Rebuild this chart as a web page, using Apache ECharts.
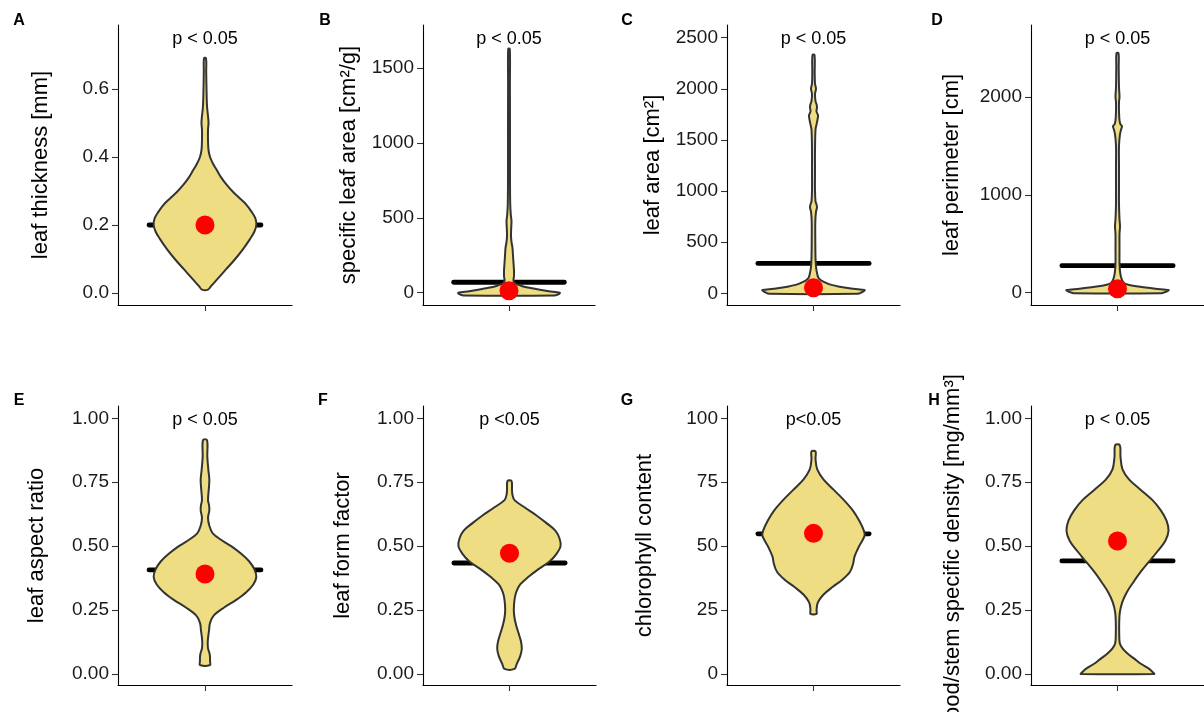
<!DOCTYPE html>
<html><head><meta charset="utf-8">
<script src="https://cdn.jsdelivr.net/npm/echarts@6/dist/echarts.min.js"></script>
<style>html,body{margin:0;padding:0;background:#fff}#c{width:1204px;height:712px}</style>
</head><body><div id="c"></div>
<script>
// ---------------- data ----------------
const panelLetters = ['A', 'B', 'C', 'D', 'E', 'F', 'G', 'H'];
const yTitles = ['leaf thickness [mm]', 'specific leaf area [cm²/g]', 'leaf area [cm²]', 'leaf perimeter [cm]',
  'leaf aspect ratio', 'leaf form factor', 'chlorophyll content', 'wood/stem specific density [mg/mm³]'];
const pLabels = ['p < 0.05', 'p < 0.05', 'p < 0.05', 'p < 0.05', 'p < 0.05', 'p <0.05', 'p<0.05', 'p < 0.05'];
const ticksA = [0, 0.2, 0.4, 0.6];
const ticksB = [0, 500, 1000, 1500];
const ticksC = [0, 500, 1000, 1500, 2000, 2500];
const ticksD = [0, 1000, 2000];
const ticksE = [0, 0.25, 0.5, 0.75, 1];
const ticksF = [0, 0.25, 0.5, 0.75, 1];
const ticksG = [0, 25, 50, 75, 100];
const ticksH = [0, 0.25, 0.5, 0.75, 1];
const tickDecimals = [1, 0, 0, 0, 2, 2, 0, 2];
const yMin = [-0.0353, -82, -114, -126, -0.043, -0.043, -4.3, -0.043];
const yMax = [0.788, 1789, 2624, 2736, 1.048, 1.048, 104.8, 1.048];
const crossbarValues = [0.2, 70, 293, 276, 0.407, 0.434, 54.8, 0.442];
const pointValues = [0.2, 13, 55, 41, 0.391, 0.472, 55, 0.52];

// violin outlines: y value and relative density (half width)
const violinA_y = [0.01,0.02,0.04,0.07,0.10,0.13,0.16,0.18,0.20,0.22,0.24,0.26,0.28,0.30,0.32,0.34,0.36,0.38,0.40,0.42,0.45,0.48,0.50,0.52,0.55,0.60,0.65,0.69];
const violinA_d = [3,6,12,21,30,38,45,49,51,50,46,41,34,27,21,16,12,8,5,3.5,3,3,3.5,3,2,1.5,1.2,1];
const violinB_y = [-18,-10,0,10,20,27,35,47,63,80,110,150,200,250,300,340,380,430,480,520,600,800,1100,1400,1629];
const violinB_d = [46,50,51,40,31,26,19,12,6,4.5,5,5,4.5,4,3.5,2.5,2,2.2,2.5,1.8,1.2,1,1,0.9,0.8];
const violinC_y = [-5,15,32,45,65,85,104,125,150,200,260,350,500,700,800,840,870,900,1000,1200,1400,1600,1650,1700,1740,1780,1820,1850,1880,1950,2000,2050,2150,2332];
const violinC_d = [44,49,51,40,26,17,12,8,5,3.5,2.5,2,1.8,1.8,2.5,3.5,3,2,1.5,1.5,1.5,2,3,4,4.5,3,3.5,3,2,1.5,2.5,1.5,1.2,1];
const violinD_y = [-5,12,27,40,55,68,78,95,120,160,220,300,450,600,680,750,900,1100,1300,1500,1620,1680,1700,1720,1760,1850,1950,2000,2100,2300,2448];
const violinD_d = [44,49,51,38,26,17,12,7,5,3.5,2.5,2,2,2,2.5,2,1.5,1.5,1.5,1.5,2.5,4,4.5,3,2,1.5,1.5,2,1.5,1.2,1];
const violinE_y = [0.035,0.05,0.065,0.08,0.10,0.12,0.14,0.17,0.20,0.23,0.26,0.29,0.32,0.35,0.38,0.41,0.44,0.47,0.50,0.52,0.55,0.58,0.61,0.64,0.66,0.68,0.72,0.76,0.80,0.85,0.915];
const violinE_d = [5,5,5,4.5,3,2.7,3,4,5,9,19,31,41,48,51,49,44,36,26,17.7,7.7,4.3,3,4.3,4,3,3.7,4.3,3.3,2.3,2];
const violinF_y = [0.02,0.04,0.07,0.10,0.13,0.16,0.19,0.22,0.25,0.29,0.32,0.35,0.38,0.41,0.44,0.47,0.50,0.53,0.56,0.59,0.62,0.65,0.68,0.70,0.72,0.755];
const violinF_d = [5,7.3,10.7,12.3,11.3,9,6.7,5,4.3,5,6.7,10.7,19,29,40,47,51,50,46,37,27,15.7,5,3,2.5,2];
const violinG_y = [23.5,25,28,31,34,37,40,43,46,50,54,56,60,64,68,72,76,80,84,87];
const violinG_d = [3,3,4.3,9.7,18.7,28.7,36,39,40.5,45,50.3,49.7,45,38.7,30,20,10,3.7,2,2];
const violinH_y = [0.0,0.005,0.02,0.04,0.06,0.08,0.10,0.12,0.16,0.20,0.24,0.28,0.32,0.36,0.40,0.44,0.48,0.52,0.56,0.60,0.64,0.68,0.72,0.76,0.80,0.85,0.895];
const violinH_d = [36.7,35.7,31.7,23.3,16.7,10,5,2.3,1.7,1.7,2.3,4.7,9.3,16,23.3,31.7,40,47.7,51,49,43.3,35,23.3,11.7,5,3,2.3];

const tickSets = [ticksA, ticksB, ticksC, ticksD, ticksE, ticksF, ticksG, ticksH];
const violinYs = [violinA_y, violinB_y, violinC_y, violinD_y, violinE_y, violinF_y, violinG_y, violinH_y];
const violinDs = [violinA_d, violinB_d, violinC_d, violinD_d, violinE_d, violinF_d, violinG_d, violinH_d];

// ---------------- layout / style ----------------
const FONT = '"Liberation Sans", Arial, sans-serif';
const gridLefts = [118, 423, 727, 1031, 118, 423, 727, 1031];
const gridWidths = [174, 172, 173, 173, 174, 173, 173, 173];
const gridTops = [25, 25, 25, 25, 406, 406, 406, 406];
const gridHeights = [280, 280, 280, 280, 279, 279, 279, 279];
const nameGaps = [66, 63, 63, 68, 70, 69, 71, 67];
const namePads = [0, 0, 0, 0, 0, 0, 0, [0, 18, 0, 0]];
const letterPos = [[19, 21], [325, 21], [627, 21], [937, 21], [19, 401], [323, 401], [627, 401], [934, 401]];
const VIOLIN_HALF = 0.354;
const BAR_HALF = 0.386;

const grids = [], xAxes = [], yAxes = [], series = [], graphics = [];
for (let i = 0; i < 8; i++) {
  grids.push({ left: gridLefts[i], top: gridTops[i], width: gridWidths[i], height: gridHeights[i],
    containLabel: false, outerBoundsMode: 'none' });
  xAxes.push({
    type: 'value', gridIndex: i, min: -0.6, max: 0.6,
    axisLine: { onZero: false, lineStyle: { color: '#000', width: 1.1 } },
    axisTick: { show: true, customValues: [0], length: 6, lineStyle: { color: '#333', width: 1.1 } },
    axisLabel: { show: false }, splitLine: { show: false }
  });
  const dec = tickDecimals[i];
  yAxes.push({
    type: 'value', gridIndex: i, min: yMin[i], max: yMax[i],
    name: yTitles[i], nameLocation: 'middle', nameGap: nameGaps[i],
    nameTextStyle: { fontSize: 22, color: '#000', fontFamily: FONT, padding: namePads[i] },
    axisLine: { onZero: false, lineStyle: { color: '#000', width: 1.1 } },
    axisTick: { show: true, customValues: tickSets[i], length: 6, lineStyle: { color: '#333', width: 1.1 } },
    axisLabel: { customValues: tickSets[i], formatter: v => Number(v).toFixed(dec), fontSize: 19, color: '#1a1a1a', fontFamily: FONT, margin: 9 },
    splitLine: { show: false }
  });
  // crossbar line
  series.push({
    type: 'line', xAxisIndex: i, yAxisIndex: i, z: 1, symbol: 'none', silent: true,
    data: [[-BAR_HALF, crossbarValues[i]], [BAR_HALF, crossbarValues[i]]],
    lineStyle: { color: '#000', width: 4.8, cap: 'round' }
  });
  // violin
  const ys = violinYs[i], ds = violinDs[i];
  const dmax = Math.max.apply(null, ds);
  series.push({
    type: 'custom', xAxisIndex: i, yAxisIndex: i, z: 2, silent: true,
    data: [[0, ys[0]]],
    renderItem: function (params, api) {
      const right = [], left = [];
      for (let k = 0; k < ys.length; k++) {
        const h = ds[k] / dmax * VIOLIN_HALF;
        right.push(api.coord([h, ys[k]]));
        left.push(api.coord([-h, ys[k]]));
      }
      const pts = right.concat(left.reverse());
      return { type: 'polygon', shape: { points: pts, smooth: 0.35 },
        style: { fill: '#EEDD82', stroke: '#333333', lineWidth: 2, lineJoin: 'round' } };
    }
  });
  // mean point
  series.push({
    type: 'scatter', xAxisIndex: i, yAxisIndex: i, z: 3, silent: true,
    symbolSize: 19, itemStyle: { color: '#FF0000', opacity: 1 },
    data: [[0, pointValues[i]]]
  });
  graphics.push({ type: 'text', x: letterPos[i][0], y: letterPos[i][1],
    style: { text: panelLetters[i], font: 'bold 16px ' + FONT, fill: '#000', textAlign: 'center', textVerticalAlign: 'middle' } });
  graphics.push({ type: 'text', x: gridLefts[i] + gridWidths[i] / 2, y: gridTops[i] + 14,
    style: { text: pLabels[i], font: '18px ' + FONT, fill: '#000', textAlign: 'center', textVerticalAlign: 'middle' } });
}
// cell boundary of panel H: the long axis title is cut off above its cell
graphics.push({ type: 'rect', z: 100, shape: { x: 920, y: 330, width: 60, height: 42 }, style: { fill: '#fff' } });

const chart = echarts.init(document.getElementById('c'), null, { renderer: 'canvas' });
chart.setOption({
  animation: false,
  backgroundColor: '#fff',
  textStyle: { fontFamily: FONT },
  grid: grids, xAxis: xAxes, yAxis: yAxes, series: series, graphic: graphics
});
</script></body></html>
